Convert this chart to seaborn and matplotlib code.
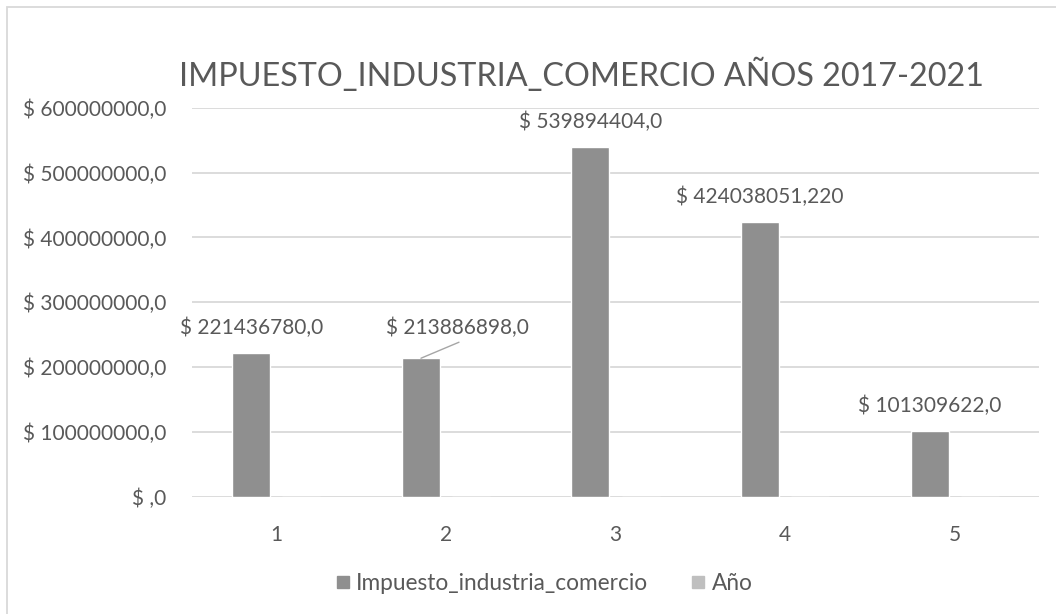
import pandas as pd
import matplotlib
matplotlib.use("Agg")
import matplotlib.pyplot as plt
import seaborn as sns
from matplotlib.patches import Rectangle
from matplotlib.lines import Line2D

# datos
periodos = ["1", "2", "3", "4", "5"]
impuesto = [221436780.0, 213886898.0, 539894404.0, 424038051.220, 101309622.0]
anio = [2017, 2018, 2019, 2020, 2021]
etiquetas = ["$ 221436780,0", "$ 213886898,0", "$ 539894404,0",
             "$ 424038051,220", "$ 101309622,0"]
yticks = [0, 100000000, 200000000, 300000000, 400000000, 500000000, 600000000]

GRIS = "#8f8f8f"
GRIS_CLARO = "#bfbfbf"
TEXTO = "#595959"
LINEA = "#d9d9d9"

sns.set_theme(style="white")
plt.rcParams['font.family'] = ['Lato', 'DejaVu Sans']

df = pd.DataFrame({
    "periodo": periodos * 2,
    "valor": impuesto + anio,
    "serie": ["Impuesto_industria_comercio"] * 5 + ["Año"] * 5,
})

fig = plt.figure(figsize=(10.56, 6.14), dpi=100)
ax = fig.add_axes([191.7 / 1056, 1 - 497 / 614, 847.6 / 1056, 389.3 / 614])

sns.barplot(data=df, x="periodo", y="valor", hue="serie",
            palette=[GRIS, GRIS_CLARO], width=0.59, gap=0.24,
            saturation=1, legend=False, ax=ax)

ax.set_ylim(0, 600000000)
ax.set_xlim(-0.5, 4.5)
ax.set_yticks(yticks)
ax.set_yticklabels(["$ ,0" if v == 0 else f"$ {v},0" for v in yticks])
ax.tick_params(axis="y", length=0, pad=18, labelsize=15, labelcolor=TEXTO)
ax.tick_params(axis="x", length=0, pad=20, labelsize=15, labelcolor=TEXTO)
ax.set_xlabel("")
ax.set_ylabel("")
ax.grid(axis="y", color=LINEA, linewidth=1.3)
ax.set_axisbelow(True)
for s in ax.spines.values():
    s.set_visible(False)

# etiquetas de datos sobre cada barra
barras = [p for p in ax.patches if p.get_height() > 1e6]
barras.sort(key=lambda p: p.get_x())
for i, (p, txt) in enumerate(zip(barras, etiquetas)):
    cx = p.get_x() + p.get_width() / 2
    top = p.get_height()
    if i == 1:
        # etiqueta desplazada con linea guia
        ax.annotate(txt, xy=(cx, top), xytext=(36, 30), textcoords="offset pixels",
                    ha="center", va="center", fontsize=15, color=TEXTO)
        ax.annotate("", xy=(cx, top), xytext=(38, 16), textcoords="offset pixels",
                    arrowprops=dict(arrowstyle="-", color="#a6a6a6", lw=1,
                                    shrinkA=0, shrinkB=0))
    else:
        ax.annotate(txt, xy=(cx, top), xytext=(0, 25), textcoords="offset pixels",
                    ha="center", va="center", fontsize=15, color=TEXTO)

fig.text(581 / 1056, 1 - 85.7 / 614, "IMPUESTO_INDUSTRIA_COMERCIO AÑOS 2017-2021",
         ha="center", va="baseline", fontsize=23.3, color=TEXTO)

handles = [Line2D([], [], marker="s", linestyle="", markersize=8,
                  markerfacecolor=GRIS, markeredgecolor=GRIS),
           Line2D([], [], marker="s", linestyle="", markersize=8,
                  markerfacecolor=GRIS_CLARO, markeredgecolor=GRIS_CLARO)]
fig.legend(handles, ["Impuesto_industria_comercio", "Año"], loc="center",
           bbox_to_anchor=(543 / 1056, 1 - 583 / 614), ncol=2, frameon=False,
           fontsize=16.3, labelcolor=TEXTO, handletextpad=0.2, columnspacing=1.8,
           handlelength=0.8)

# borde del area del grafico
fig.add_artist(Rectangle((6.5 / 1056, -0.2), 1.2, 1.2 - 7.5 / 614,
                         transform=fig.transFigure, fill=False,
                         edgecolor=LINEA, linewidth=1.3, clip_on=False))

plt.savefig("out.png", dpi=100, facecolor="white")
